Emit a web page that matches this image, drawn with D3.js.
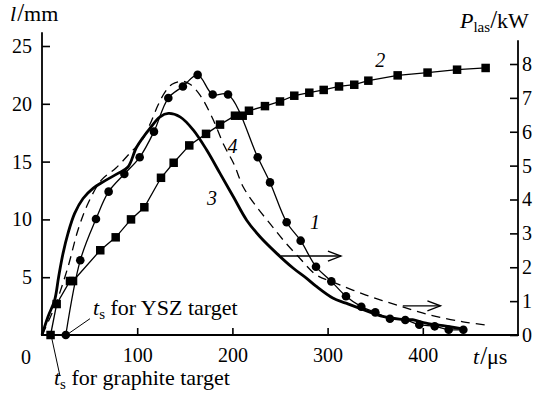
<!DOCTYPE html>
<html>
<head>
<meta charset="utf-8">
<script src="https://cdn.jsdelivr.net/npm/d3@7"></script>
<style>
  html, body { margin: 0; padding: 0; background: #fff; }
</style>
</head>
<body>
<div id="chart"></div>
<script>
// curve 1: l (mm), circles
const curve1 = [
  [25, 0], [40.2, 6.46], [56.7, 10.03], [70, 12.4], [86.5, 13.93], [102.6, 15.37],
  [117.6, 17.59], [132.7, 20.5], [148, 21.5], [163.5, 22.5], [179.3, 20.8], [195.4, 20.8],
  [226.6, 15.37], [239.5, 13.2], [257, 9.75], [271.7, 8.16], [287.8, 5.91], [303.9, 4.64],
  [319.3, 3.35], [335.4, 2.45], [350.1, 1.96], [365.5, 1.41], [381.6, 1.3], [396.3, 0.89],
  [412.5, 0.75], [427.2, 0.46], [442.6, 0.46]
];
// curve 2: l (mm), squares
const curve2 = [
  [9, 0], [15.4, 2.68], [29.4, 4.67], [32.6, 4.67], [61.2, 7.33], [77.4, 8.45], [93.5, 10.0],
  [107.5, 11.05], [125, 13.6], [138.3, 14.9], [154.7, 16.4], [172.3, 17.4], [187, 18.2],
  [202.7, 18.97], [210.8, 18.97], [217.4, 19.4], [234.2, 19.8], [250, 20.2], [265, 20.7],
  [280.8, 20.96], [295.9, 21.2], [312, 21.5], [328, 21.65], [342.8, 22.0], [373.6, 22.46],
  [405, 22.7], [436, 22.95], [466, 23.1]
];
// curve 3: P_las (kW), thick solid
const curve3 = [
  [0, 0], [6.3, 0.54], [13.3, 1.03], [17.5, 1.72], [22.1, 2.41], [27.3, 3.0], [34.3, 3.59],
  [43.1, 4.03], [53.6, 4.33], [65.9, 4.55], [79.8, 4.77], [90.3, 4.96], [99.5, 5.55],
  [113.4, 6.1], [124, 6.44], [132.7, 6.54], [145, 6.44], [159, 6.05], [173, 5.46], [187, 4.77],
  [201, 4.08], [215, 3.39], [229, 2.9], [246.5, 2.41], [264, 1.97], [278, 1.67], [287.8, 1.44],
  [305.4, 1.09], [319.3, 0.94], [340.3, 0.72], [357.9, 0.55], [375.3, 0.47], [389.4, 0.45],
  [403.4, 0.35], [424.4, 0.26], [441.9, 0.18]
];
// curve 4: P_las (kW), dashed
const curve4 = [
  [0, 0], [13.3, 0.83], [27.3, 2.01], [37.8, 3.1], [48.3, 3.88], [62.3, 4.57], [77.7, 4.93],
  [92.4, 5.37], [105, 5.75], [113.4, 6.22], [121.8, 6.78], [129.2, 7.17], [136.6, 7.4],
  [147.1, 7.49], [155.5, 7.4], [166, 7.08], [178.6, 6.43], [191.2, 5.6], [201.7, 5.04],
  [211.4, 4.37], [225.5, 3.78], [239.5, 3.29], [253.5, 2.8], [271, 2.26], [287.8, 1.78],
  [305.7, 1.56], [340.3, 1.18], [372.9, 0.88], [407.6, 0.59], [442.2, 0.39], [468.2, 0.29]
];

const xTicks = [100, 200, 300, 400];
const yLeftTicks = [5, 10, 15, 20, 25];
const yRightTicks = [0, 1, 2, 3, 4, 5, 6, 7, 8];

// curve numbers, placed in (t, mm)
const curveLabels = [
  { text: '1', t: 286.8, v: 9.17 },
  { text: '2', t: 355.4, v: 23.16 },
  { text: '3', t: 178.6, v: 11.25 },
  { text: '4', t: 200.1, v: 15.72 }
];
// arrows pointing to right axis, in (t, kW)
const arrows = [
  { t0: 251, t1: 314, v: 2.33 },
  { t0: 379, t1: 418.5, v: 0.86 }
];

const FONT = "'Liberation Serif', 'DejaVu Serif', serif";
const W = 536, H = 398;
const svg = d3.select('#chart').append('svg')
  .attr('width', W).attr('height', H)
  .style('display', 'block')
  .style('font-family', FONT);

const x = d3.scaleLinear().domain([0, 500]).range([42, 518]);
const yL = d3.scaleLinear().domain([0, 25]).range([335, 46]);
const yR = d3.scaleLinear().domain([0, 8]).range([335, 64]);

// axes frame lines
svg.append('line')
  .attr('x1', x(0)).attr('x2', x(0)).attr('y1', yL(0) + 1).attr('y2', yL(26.2))
  .attr('stroke', '#000').attr('stroke-width', 1.8);
svg.append('line')
  .attr('x1', x(500)).attr('x2', x(500)).attr('y1', yR(0) + 1).attr('y2', yR(8.7))
  .attr('stroke', '#000').attr('stroke-width', 1.8);
svg.append('line')
  .attr('x1', x(0) - 1).attr('x2', x(500) + 1).attr('y1', yL(0)).attr('y2', yL(0))
  .attr('stroke', '#000').attr('stroke-width', 2);

function styleAxis(g) {
  g.attr('font-family', null).attr('font-size', 20);
  g.select('.domain').remove();
  g.selectAll('.tick line').attr('stroke', '#000').attr('stroke-width', 1.6);
  g.selectAll('.tick text').attr('fill', '#000').style('font-family', FONT);
}

svg.append('g')
  .attr('transform', `translate(${x(0)},0)`)
  .call(d3.axisLeft(yL).tickValues(yLeftTicks).tickSize(-8).tickPadding(10))
  .call(styleAxis);

svg.append('g')
  .attr('transform', `translate(${x(500)},0)`)
  .call(d3.axisRight(yR).tickValues(yRightTicks).tickSize(-8).tickPadding(4))
  .call(styleAxis);

svg.append('g')
  .attr('transform', `translate(0,${yL(0)})`)
  .call(d3.axisBottom(x).tickValues(xTicks).tickSize(-7).tickPadding(13))
  .call(styleAxis);

// origin "0"
svg.append('text').attr('x', x(0) - 16).attr('y', 364)
  .attr('text-anchor', 'middle').attr('font-size', 20).text('0');

// axis titles
const tl = svg.append('text').attr('x', 10).attr('y', 21).attr('font-size', 22);
tl.append('tspan').attr('font-style', 'italic').text('l');
tl.append('tspan').attr('font-size', 25).attr('dx', 1).text('/');
tl.append('tspan').text('mm');

const tr = svg.append('text').attr('x', 460).attr('y', 28).attr('font-size', 22);
tr.append('tspan').attr('font-style', 'italic').text('P');
tr.append('tspan').attr('font-size', 15).attr('dy', 4).text('las');
tr.append('tspan').attr('font-size', 25).attr('dy', -4).text('/');
tr.append('tspan').text('kW');

const tb = svg.append('text').attr('x', 473).attr('y', 364).attr('font-size', 22);
tb.append('tspan').attr('font-style', 'italic').text('t');
tb.append('tspan').attr('font-size', 25).attr('dx', 1).text('/');
tb.append('tspan').text('μs');

// curves
const lineL = d3.line().x(d => x(d[0])).y(d => yL(d[1]));
const smoothL = d3.line().x(d => x(d[0])).y(d => yL(d[1])).curve(d3.curveCatmullRom);
const smoothR = d3.line().x(d => x(d[0])).y(d => yR(d[1])).curve(d3.curveCatmullRom);

svg.append('path')
  .attr('d', smoothR(curve4))
  .attr('fill', 'none').attr('stroke', '#000').attr('stroke-width', 1.3)
  .attr('stroke-dasharray', '9,6');

svg.append('path')
  .attr('d', smoothR(curve3))
  .attr('fill', 'none').attr('stroke', '#000').attr('stroke-width', 2.8);

svg.append('path')
  .attr('d', smoothL(curve1))
  .attr('fill', 'none').attr('stroke', '#000').attr('stroke-width', 1.3);

svg.append('path')
  .attr('d', lineL(curve2))
  .attr('fill', 'none').attr('stroke', '#000').attr('stroke-width', 1.3);

svg.append('g').selectAll('circle').data(curve1).join('circle')
  .attr('cx', d => x(d[0])).attr('cy', d => yL(d[1])).attr('r', 4.3).attr('fill', '#000');

const s = 8.5;
svg.append('g').selectAll('rect').data(curve2).join('rect')
  .attr('x', d => x(d[0]) - s / 2).attr('y', d => yL(d[1]) - s / 2)
  .attr('width', s).attr('height', s).attr('fill', '#000');

// curve numbers
svg.append('g').selectAll('text').data(curveLabels).join('text')
  .attr('x', d => x(d.t)).attr('y', d => yL(d.v))
  .attr('text-anchor', 'middle').attr('font-size', 20).attr('font-style', 'italic')
  .text(d => d.text);

// arrows
arrows.forEach(a => {
  const g = svg.append('g').attr('stroke', '#000').attr('stroke-width', 1.4).attr('fill', 'none');
  const x0 = x(a.t0), x1 = x(a.t1), yy = yR(a.v);
  g.append('line').attr('x1', x0).attr('x2', x1).attr('y1', yy).attr('y2', yy);
  g.append('path').attr('d', `M${x1 - 13},${yy - 5} L${x1},${yy} L${x1 - 13},${yy + 5}`);
});

// t_s annotations
function tsLabel(tx, ty, rest) {
  const t = svg.append('text').attr('x', tx).attr('y', ty).attr('font-size', 22);
  t.append('tspan').attr('font-style', 'italic').text('t');
  t.append('tspan').attr('font-size', 15).attr('dy', 4).text('s');
  t.append('tspan').attr('dy', -4).text(' ' + rest);
}
svg.append('line')
  .attr('x1', x(27.3)).attr('y1', yL(0.09)).attr('x2', x(50.4)).attr('y2', yL(1.41))
  .attr('stroke', '#000').attr('stroke-width', 1);
tsLabel(x(53.6), yL(1.73), 'for YSZ target');

svg.append('line')
  .attr('x1', x(10.2)).attr('y1', yL(-0.26)).attr('x2', x(18.9)).attr('y2', yL(-3.55))
  .attr('stroke', '#000').attr('stroke-width', 1);
tsLabel(x(12.6), yL(-4.3), 'for graphite target');
</script>
</body>
</html>
